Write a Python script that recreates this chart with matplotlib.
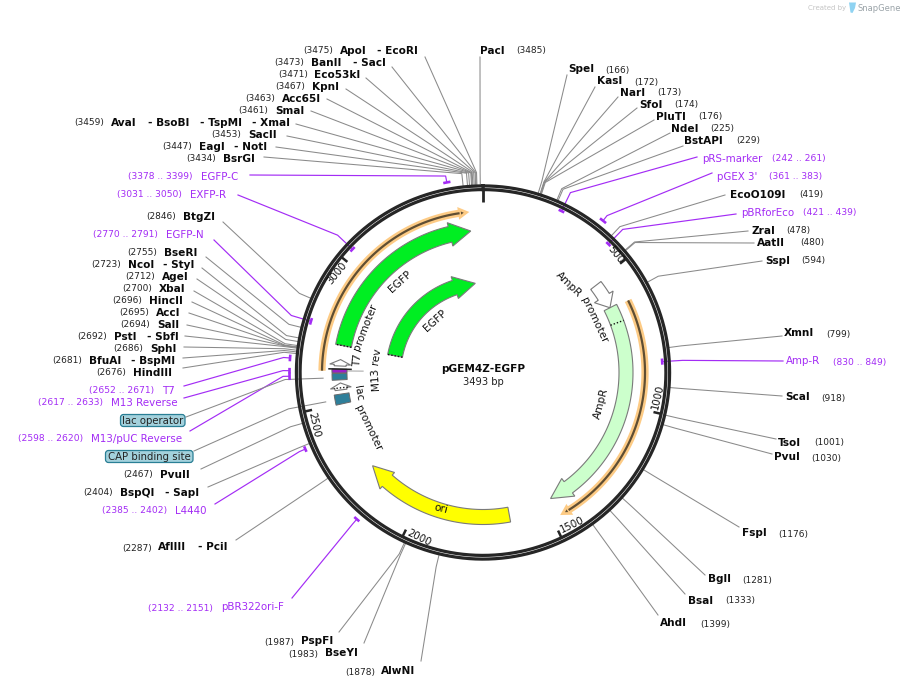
import numpy as np
import matplotlib
matplotlib.use("Agg")
import matplotlib.pyplot as plt
from matplotlib.patches import Polygon, FancyBboxPatch
from matplotlib.font_manager import FontProperties

# ---- data -------------------------------------------------------------
SEQ_LEN = 3493
tick_values = [500, 1000, 1500, 2000, 2500, 3000]

re_names = [
    ["ApoI", "EcoRI"], ["BanII", "SacI"], ["Eco53kI"], ["KpnI"], ["Acc65I"], ["SmaI"],
    ["AvaI", "BsoBI", "TspMI", "XmaI"], ["SacII"], ["EagI", "NotI"], ["BsrGI"], ["BtgZI"],
    ["BseRI"], ["NcoI", "StyI"], ["AgeI"], ["XbaI"], ["HincII"], ["AccI"], ["SalI"],
    ["PstI", "SbfI"], ["SphI"], ["BfuAI", "BspMI"], ["HindIII"], ["PvuII"], ["BspQI", "SapI"],
    ["AflIII", "PciI"], ["PspFI"], ["BseYI"], ["AlwNI"], ["PacI"], ["SpeI"], ["KasI"], ["NarI"],
    ["SfoI"], ["PluTI"], ["NdeI"], ["BstAPI"], ["EcoO109I"], ["ZraI"], ["AatII"], ["SspI"],
    ["XmnI"], ["ScaI"], ["TsoI"], ["PvuI"], ["FspI"], ["BglI"], ["BsaI"], ["AhdI"],
]
re_sites = [
    3475, 3473, 3471, 3467, 3463, 3461, 3459, 3453, 3447, 3434, 2846,
    2755, 2723, 2712, 2700, 2696, 2695, 2694, 2692, 2686, 2681, 2676, 2467, 2404,
    2287, 1987, 1983, 1878, 3485, 166, 172, 173, 174, 176, 225, 229, 419, 478, 480, 594,
    799, 918, 1001, 1030, 1176, 1281, 1333, 1399,
]
primer_names = ["EGFP-C", "EXFP-R", "EGFP-N", "T7", "M13 Reverse", "M13/pUC Reverse", "L4440",
                "pBR322ori-F", "pRS-marker", "pGEX 3'", "pBRforEco", "Amp-R"]
primer_starts = [3378, 3031, 2770, 2652, 2617, 2598, 2385, 2132, 242, 361, 421, 830]
primer_ends = [3399, 3050, 2791, 2671, 2633, 2620, 2402, 2151, 261, 383, 439, 849]
primer_forward = [True, False, False, True, True, True, True, True, False, True, False, False]

# ---- layout of labels (pixels in the 906x688 picture) --------------------
re_pos_x = [303, 274, 278, 275, 245, 238, 74, 211, 162, 186, 146,
            127, 91, 125, 122, 112, 119, 120, 77, 113, 52, 96, 123, 83,
            122, 264, 288, 345, 516, 605, 634, 657, 674, 698, 710, 736, 799, 786, 800, 801,
            826, 821, 814, 811, 778, 742, 725, 700]
re_name_x = [[340, 377], [311, 353], [314], [312], [282], [275], [111, 148, 200, 252], [248], [199, 234], [223], [183],
             [164], [128, 163], [162], [159], [149], [156], [157], [114, 147], [150], [89, 131], [133], [160], [120, 165],
             [158, 198], [301], [325], [381], [480], [568], [597], [620], [639], [656], [671], [684], [730], [751], [757], [765],
             [784], [785], [778], [774], [742], [708], [688], [660]]
re_y = [50, 62, 74, 86, 98, 110, 122, 134, 146, 158, 216,
        252, 264, 276, 288, 300, 312, 324, 336, 348, 360, 372, 474, 492,
        547, 641, 653, 671, 50, 69, 81, 92, 104, 116, 128, 140, 194, 230, 242, 260,
        333, 397, 442, 457, 533, 579, 600, 623]
re_lead = [(425, 57), (392, 67), (366, 78), (346, 89), (327, 99), (311, 111), (296, 124), (287, 136), (276, 147), (264, 157), (223, 222),
           (206, 257), (202, 268), (197, 279), (194, 291), (192, 302), (189, 313), (187, 325), (185, 336), (184, 347), (183, 358), (183, 368),
           (201, 469), (208, 487), (236, 540), (339, 632), (364, 643), (421, 661), (480, 57), (567, 75), (595, 87), (618, 97), (637, 108),
           (654, 120), (670, 133), (683, 146), (725, 195), (748, 231), (754, 243), (762, 261), (782, 336), (782, 396), (776, 439),
           (772, 454), (739, 527), (705, 575), (685, 594), (658, 615)]
primer_range_x = [128, 117, 93, 89, 38, 18, 102, 148, 772, 769, 803, 833]
primer_name_x = [201, 190, 166, 162, 111, 91, 175, 221, 702, 717, 741, 786]
primer_y = [176, 194, 234, 390, 402, 438, 510, 607, 158, 176, 212, 361]
primer_lead = [(250, 175), (238, 195), (214, 240), (184, 386), (184, 398), (190, 431), (215, 504),
               (292, 598), (697, 157), (712, 173), (736, 214), (783, 361)]

W, H = 906, 688
CX, CY = 483.0, 372.5
BOLD_FS, POS_FS, NAME_FS = 7.6, 6.5, 7.4
GREY = "#8a8a8a"
PURPLE = "#a32cf5"
DARK = "#262626"

fig = plt.figure(figsize=(W / 100, H / 100), dpi=100)
ax = fig.add_axes([0, 0, 1, 1])
ax.set_xlim(0, W)
ax.set_ylim(H, 0)
ax.axis("off")
renderer = fig.canvas.get_renderer()


def ang(bp):
    return np.asarray(bp, dtype=float) / SEQ_LEN * 360.0


def pt(r, a):
    a = np.radians(a)
    return CX + r * np.sin(a), CY - r * np.cos(a)


def arc(r, a0, a1, n=120):
    a = np.linspace(a0, a1, n)
    return pt(r, a)


def arrow(start_bp, tip_bp, rc, half=7.5, wing=11.5, head=21.0, fc="w", ec="#7a7a7a", z=5, dotted=False):
    a0, a1 = ang(start_bp), ang(tip_bp)
    sgn = 1 if a1 > a0 else -1
    ab = a1 - sgn * np.degrees(head / rc)
    xo, yo = arc(rc + half, a0, ab, 80)
    xi, yi = arc(rc - half, ab, a0, 80)
    wo = pt(rc + wing, ab)
    wi = pt(rc - wing, ab)
    tip = pt(rc, a1)
    xs = list(xo) + [wo[0], tip[0], wi[0]] + list(xi)
    ys = list(yo) + [wo[1], tip[1], wi[1]] + list(yi)
    ax.add_patch(Polygon(np.c_[xs, ys], closed=True, fc=fc, ec=ec, lw=0.8, zorder=z))
    if dotted:
        x0, y0 = pt(rc - half, a0)
        x1, y1 = pt(rc + half, a0)
        ax.plot([x0, x1], [y0, y1], color="#111111", lw=1.0, ls=(0, (1, 1.4)), zorder=z + 1)


def block(b0, b1, rc, half, fc, z=5):
    a0, a1 = ang(b0), ang(b1)
    xo, yo = arc(rc + half, a0, a1, 10)
    xi, yi = arc(rc - half, a1, a0, 10)
    ax.add_patch(Polygon(np.c_[list(xo) + list(xi), list(yo) + list(yi)], closed=True, fc=fc, ec="#6a6a6a", lw=0.7, zorder=z))


def orange(b0, b1, r):
    a0, a1 = ang(b0), ang(b1)
    ab = a1 - np.degrees(7.0 / r)
    x, y = arc(r, a0, ab)
    ax.plot(x, y, color="#fdcb85", lw=5.2, solid_capstyle="butt", zorder=4)
    ax.plot(x, y, color="#5f4e33", lw=1.6, solid_capstyle="butt", zorder=5)
    head = [pt(r + 4, ab), pt(r, a1), pt(r - 4, ab)]
    ax.add_patch(Polygon(head, closed=True, fc="#5f4e33", ec="#fdcb85", lw=2.0, zorder=4.5))


def curved(s, r, a_start, cw=True, fs=7.6, color="#111111"):
    """Place the words of s along a circle, beginning at angle a_start."""
    fp = FontProperties(family="DejaVu Sans", size=fs)

    def width(t):
        return renderer.get_text_width_height_descent(t, fp, False)[0]

    sgn = 1 if cw else -1
    pos = 0.0
    space = width("a a") - width("aa")
    for word in s.split(" "):
        w = width(word)
        a = a_start + sgn * np.degrees((pos + w / 2) / r)
        x, y = pt(r, a)
        rot = -a if cw else 180 - a
        ax.text(x, y, word, fontsize=fs, color=color, rotation=rot, rotation_mode="anchor",
                ha="center", va="center_baseline", zorder=8)
        pos += w + space


# ---- leaders -----------------------------------------------------------
def leader(start, a, r_elbow, r_end, color, lw=0.75, z=1):
    ex, ey = pt(r_elbow, a)
    fx, fy = pt(r_end, a)
    ax.plot([start[0], ex, fx], [start[1], ey, fy], color=color, lw=lw, zorder=z, solid_joinstyle="miter")


for site, st in zip(re_sites, re_lead):
    leader(st, ang(site), 200, 186, GREY)

for b0, b1, fwd, st in zip(primer_starts, primer_ends, primer_forward, primer_lead):
    a = ang((b0 + b1) / 2)
    r_mark = 193.5 if fwd else 179.5
    leader(st, a, 200, r_mark, PURPLE, lw=0.85)
    x, y = arc(r_mark, ang(b0), ang(b1), 12)
    ax.plot(x, y, color=PURPLE, lw=1.9, solid_capstyle="butt", zorder=6)

# ---- backbone ----------------------------------------------------------
for r in (186.6, 182.9):
    x, y = arc(r, 0, 360, 720)
    ax.plot(x, y, color=DARK, lw=2.3, zorder=3)

x0, y0 = pt(186, 0)
x1, y1 = pt(171, 0)
ax.plot([x0, x1], [y0, y1], color=DARK, lw=2.0, zorder=3, solid_capstyle="butt")
for t, da in zip(tick_values, [3.2, 5, 5, 5, 5, 5]):
    a = ang(t)
    x0, y0 = pt(183, a)
    x1, y1 = pt(175, a)
    ax.plot([x0, x1], [y0, y1], color=DARK, lw=1.8, zorder=3, solid_capstyle="butt")
    tx, ty = pt(177, a - da)
    rot = 180 - a if 90 < a < 180 else (-a if a < 90 else (180 - a if a < 250 else (360 - a if a > 270 else 180 - a)))
    ax.text(tx, ty, str(t), fontsize=7.3, color="#111111", rotation=rot, rotation_mode="anchor",
            ha="center", va="center", zorder=8)

# ---- features ----------------------------------------------------------
arrow(2725, 3445, 142, half=8, wing=12, fc="#00ee22", dotted=True)
arrow(2724, 3445, 89.5, half=7.5, wing=11.5, fc="#00ee22", dotted=True)
arrow(611, 1473, 143, half=7, wing=11, fc="#ccffcc")
arrow(508, 611, 142.5, half=6.5, wing=11, head=12.5, fc="w")
arrow(1645, 2230, 144.5, half=7.5, wing=11, fc="#ffff00")
orange(617, 1461, 162)
orange(2626, 3436, 161)

xd0, yd0 = pt(136, ang(676))
xd1, yd1 = pt(150, ang(676))
ax.plot([xd0, xd1], [yd0, yd1], color="#111111", lw=1.0, ls=(0, (1, 1.4)), zorder=7)

# small features around 2500-2670
arrow(2645, 2670, 143, half=6, wing=10.5, head=5, fc="w")
block(2618, 2633, 143.5, 7.5, "#9a1fc9")
block(2591, 2616, 143.5, 7.5, "#2e7f9a")
xa, ya = pt(132, ang(2633))
xb, yb = pt(154, ang(2633))
ax.plot([xa, xb], [ya, yb], color="#222222", lw=1.1, zorder=7)
arrow(2552, 2579, 143, half=6, wing=10.5, head=5, fc="w", dotted=False)
xa, ya = pt(136, ang(2560))
xb, yb = pt(150, ang(2560))
ax.plot([xa, xb], [ya, yb], color="#111111", lw=1.0, ls=(0, (1, 1.4)), zorder=7)
block(2498, 2536, 143, 7.5, "#2e7f9a")

# connector lines of the labelled features
for lab_pt, bp, elbow_r, end_r in [((186, 417), 2600, 198, 160), ((194, 451), 2517, 198, 160)]:
    leader(lab_pt, ang(bp), elbow_r, end_r, GREY)
xa, ya = pt(151, ang(2626))
xb, yb = pt(120, ang(2626))
ax.plot([xa, xb], [ya, yb], color="#b5b5b5", lw=0.9, zorder=2)

# ---- feature labels ----------------------------------------------------
curved("T7 promoter", 127, 272.8, cw=True)
curved("M13 rev", 109, 260.5, cw=True)
curved("lac promoter", 126, 264, cw=False)
curved("AmpR promoter", 124, 37, cw=True)
for txt, r, a, rot in [("EGFP", 123, 317.6, 42), ("EGFP", 71, 317.3, 42), ("AmpR", 122, 104.7, 75), ("ori", 143, 197, -14)]:
    x, y = pt(r, a)
    ax.text(x, y, txt, fontsize=7.6, color="#111111", rotation=rot, rotation_mode="anchor",
            ha="center", va="center", zorder=8)

# ---- site labels -------------------------------------------------------
for names, site, px, nxs, y in zip(re_names, re_sites, re_pos_x, re_name_x, re_y):
    by = y + 3.5
    ax.text(px, by, f"({site})", fontsize=POS_FS, color="#222222", ha="left", va="baseline", zorder=9)
    for i, (nm, nx) in enumerate(zip(names, nxs)):
        ax.text(nx, by, nm if i == 0 else "- " + nm, fontsize=BOLD_FS, fontweight="bold", color="#0a0a0a",
                ha="left", va="baseline", zorder=9)

for nm, b0, b1, rx, nx, y in zip(primer_names, primer_starts, primer_ends, primer_range_x, primer_name_x, primer_y):
    by = y + 3.5
    ax.text(rx, by, f"({b0} .. {b1})", fontsize=6.6, color=PURPLE, ha="left", va="baseline", zorder=9)
    ax.text(nx, by, nm, fontsize=NAME_FS, color=PURPLE, ha="left", va="baseline", zorder=9)

for txt, x0, x1, yc in [("lac operator", 120.5, 185, 420.5), ("CAP binding site", 105.5, 193, 456.5)]:
    ax.add_patch(FancyBboxPatch((x0, yc - 6), x1 - x0, 12, boxstyle="round,pad=0,rounding_size=3",
                                fc="#a3d1dc", ec="#2a7f95", lw=0.9, zorder=9))
    ax.text((x0 + x1) / 2, yc + 3.2, txt, fontsize=7.3, color="#222222", ha="center", va="baseline", zorder=10)

# ---- centre title and credit ---------------------------------------------
ax.text(CX, 372, "pGEM4Z-EGFP", fontsize=7.6, fontweight="bold", color="#0a0a0a", ha="center", va="baseline", zorder=9)
ax.text(CX, 385, "3493 bp", fontsize=7.2, color="#222222", ha="center", va="baseline", zorder=9)

ax.text(808.5, 10, "Created by", fontsize=5.0, color="#c4c4c4", ha="left", va="baseline")
ax.text(858, 11, "SnapGene", fontsize=6.0, color="#9aa3a8", ha="left", va="baseline")
ax.add_patch(Polygon([(849, 2.5), (856, 2.5), (855, 8), (852.5, 13), (850.5, 12.5)], closed=True,
                     fc="#8fd3f2", ec="none"))

fig.savefig("out.png", dpi=100)
